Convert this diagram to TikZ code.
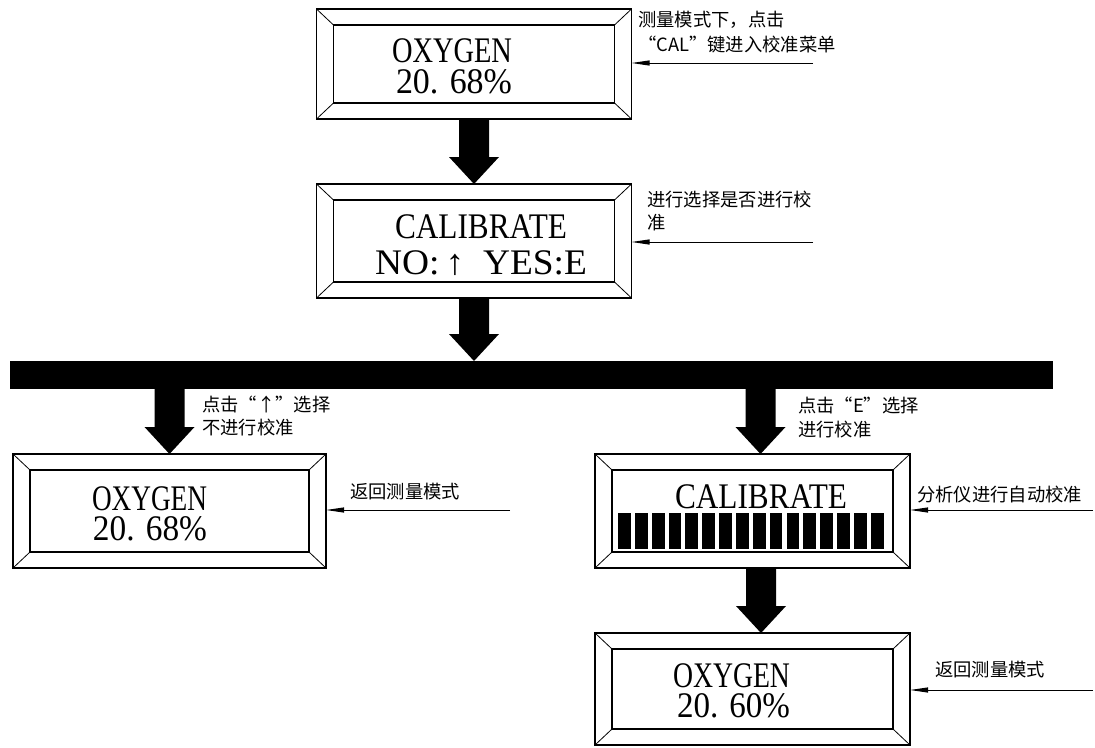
\documentclass[tikz,border=0pt]{standalone}
\usepackage{fontspec}
\setmainfont{Liberation Serif}
\newfontfamily\cjk{Noto Sans CJK SC}
\usetikzlibrary{calc,arrows.meta}
\newcommand\lcdline[2]{\resizebox{#1pt}{\height}{#2}}
\newcommand\bevel[1]{%
  \draw[inner] ($(#1.north west)+(17,16)$) rectangle ($(#1.south east)+(-17,-16)$);
  \draw[diag] (#1.north west) -- ($(#1.north west)+(17,16)$);
  \draw[diag] (#1.north east) -- ($(#1.north east)+(-17,16)$);
  \draw[diag] (#1.south west) -- ($(#1.south west)+(17,-16)$);
  \draw[diag] (#1.south east) -- ($(#1.south east)+(-17,-16)$);}
\newcommand\bigarrow[2]{%
  \fill[black] ($(#1)+(-15,0)$) -- ($(#2)+(-15,-27)$) -- ($(#2)+(-25,-27)$) -- (#2)
    -- ($(#2)+(25,-27)$) -- ($(#2)+(15,-27)$) -- ($(#1)+(15,0)$) -- cycle;}
\tikzset{
  lcdbox/.style={draw, line width=1.5pt, inner sep=0pt, outer sep=0pt, minimum width=315pt},
  inner/.style={line width=1.2pt},
  diag/.style={line width=0.8pt},
  lcdtxt/.style={anchor=base, inner sep=0pt, text height=26pt, text depth=0pt, font=\fontsize{36}{36}\selectfont},
  note/.style={line width=1pt, -{Triangle[length=18pt,width=5pt]}},
  notetxt/.style={anchor=west, inner sep=0pt, font=\cjk\fontsize{18.3}{21}\selectfont},
  barstyle/.style={fill=black, inner sep=0pt, outer sep=0pt, minimum width=1043pt, minimum height=28pt}
}
\begin{document}
\begin{tikzpicture}[x=1pt,y=-1pt]
\useasboundingbox (0,0) rectangle (1095,747);
% boxes
\node[lcdbox, minimum height=110pt] (b1) at (474,64) {};
\node[lcdbox, minimum height=114pt] (b2) at (474,241) {};
\node[lcdbox, minimum height=114pt, minimum width=313pt] (lb) at (169.5,511) {};
\node[lcdbox, minimum height=114pt] (rb) at (752.5,511) {};
\node[lcdbox, minimum height=112pt] (fb) at (752.5,689) {};
\bevel{b1}\bevel{b2}\bevel{lb}\bevel{rb}\bevel{fb}
% box texts
\node[lcdtxt] (b1l1) at (452,62) {\lcdline{120}{OXYGEN}};
\node[lcdtxt] (b1l2) at (454,93) {\lcdline{116}{20. 68\%}};
\node[lcdtxt] (b2l1) at (481,238) {\lcdline{172}{CALIBRATE}};
\node[lcdtxt] (b2l2) at (481,274) {\lcdline{212}{NO:\,↑\ \ YES:E}};
\node[lcdtxt] (lbl1) at (149.5,510) {\lcdline{115}{OXYGEN}};
\node[lcdtxt] (lbl2) at (150,540) {\lcdline{114}{20. 68\%}};
\node[lcdtxt] (rbl1) at (761,508) {\lcdline{172}{CALIBRATE}};
\node[lcdtxt] (fbl1) at (731.5,687) {\lcdline{117}{OXYGEN}};
\node[lcdtxt] (fbl2) at (733.5,717) {\lcdline{113}{20. 60\%}};
% progress bars
\foreach \i in {0,...,15} {
  \fill[black] (618+\i*16.85,513) rectangle ++(12.8,36);
}
% horizontal bar
\node[barstyle] (bar) at (531.5,375) {};
% big arrows
\coordinate (t2) at (b2.south |- bar.north);
\coordinate (ls) at (bar.south -| lb.north);
\coordinate (rt) at ([xshift=8pt]rb.north);
\coordinate (rs) at (bar.south -| rt);
\coordinate (r3s) at ([xshift=8.5pt]rb.south);
\coordinate (r3t) at ([xshift=8.5pt]fb.north);
\bigarrow{b1.south}{b2.north}
\bigarrow{b2.south}{t2}
\bigarrow{ls}{lb.north}
\bigarrow{rs}{rt}
\bigarrow{r3s}{r3t}
% annotation lines
\coordinate (n1) at (813,63);
\coordinate (n2) at (813,242);
\coordinate (n3) at (510,510);
\coordinate (n4) at (1093,510);
\coordinate (n5) at (1093,690);
\draw[note] (n1) -- (b1.east |- n1);
\draw[note] (n2) -- (b2.east |- n2);
\draw[note] (n3) -- (lb.east |- n3);
\draw[note] (n4) -- (rb.east |- n4);
\draw[note] (n5) -- (fb.east |- n5);
% annotation texts
\node[notetxt] (a1) at (638,20) {测量模式下，点击};
\node[notetxt] (a1b) at (638,45) {“CAL”键进入校准菜单};
\node[notetxt] (a2) at (647,200) {进行选择是否进行校};
\node[notetxt] (a2b) at (647,223) {准};
\node[notetxt] (a3) at (350,492) {返回测量模式};
\node[notetxt] (a4) at (917,495) {分析仪进行自动校准};
\node[notetxt] (a5) at (935,670) {返回测量模式};
\node[notetxt] (l1) at (202,404) {点击“↑”选择};
\node[notetxt] (l1b) at (202,428) {不进行校准};
\node[notetxt] (r1) at (798,405) {点击“E”选择};
\node[notetxt] (r1b) at (798,430) {进行校准};
\end{tikzpicture}
\end{document}
